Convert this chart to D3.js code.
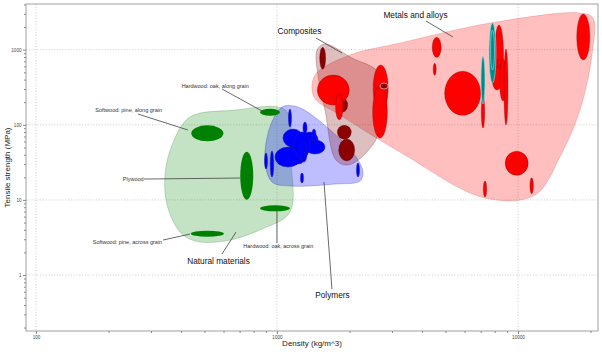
<!DOCTYPE html>
<html><head><meta charset="utf-8">
<script src="https://cdn.jsdelivr.net/npm/d3@7"></script>
<style>
body{margin:0;background:#fff;}
svg{display:block;font-family:"Liberation Sans",Arial,sans-serif;}
</style>
</head><body><svg id="c" width="602" height="352"></svg>
<script>
// ---------- data ----------
const xTicks = [100, 1000, 10000];
const yTicks = [1, 10, 100, 1000];
const xDomain = [90.9, 21480];     // density, kg/m^3
const yDomain = [0.18, 4060];      // tensile strength, MPa

// [name, density min, density max, strength min, strength max]
const natural = [
  ["Softwood: pine, along grain", 441, 599, 60.3, 98.5],
  ["Hardwood: oak, along grain", 850, 1029, 131.8, 163.3],
  ["Plywood", 704, 797, 10.06, 43.8],
  ["Hardwood: oak, across grain", 850, 1132, 7.05, 8.48],
  ["Softwood: pine, across grain", 439, 602, 3.24, 3.89]
];
const polymers = [
  ["P13", 1122, 1332, 30.1, 62.8],
  ["P14", 1270, 1480, 49.1, 80.2],
  ["P2", 981, 1258, 27.4, 50.6],
  ["P3", 1059, 1282, 50.6, 87.9],
  ["P5", 1307, 1582, 40.9, 62.8],
  ["P4", 1176, 1371, 36.1, 80.2],
  ["P6", 1258, 1332, 31.9, 59.0],
  ["P7", 1282, 1332, 75.4, 109],
  ["P8", 1397, 1451, 60.9, 87.9],
  ["P1", 1116, 1148, 93.5, 162.3],
  ["P9", 888, 913, 25.8, 42.1],
  ["P10", 938, 969, 20.2, 44.8],
  ["P11", 1252, 1288, 16.8, 22.8],
  ["P12", 2138, 2200, 20.2, 31.0]
];
const composites = [
  ["C1", 1504, 1592, 548, 1076],
  ["C2", 1786, 1965, 148, 227],
  ["C3", 1780, 2034, 64.1, 98.5],
  ["C4", 1803, 2101, 33.0, 64.7]
];
const metals = [
  ["M1", 1470, 1995, 183.5, 460.4],
  ["M2", 1750, 1879, 116.9, 259.5],
  ["M3", 2507, 2893, 152.7, 625.6],
  ["M4", 2495, 2869, 66.7, 328.6],
  ["M5", 4406, 4801, 792, 1463],
  ["M6", 4448, 4577, 456, 659],
  ["M7", 4963, 7002, 133.8, 515.6],
  ["M8", 7043, 7277, 90.7, 241.8],
  ["M9", 7989, 8708, 338.8, 2133],
  ["M17", 7802, 8583, 290.7, 606.7],
  ["M10", 8182, 8664, 625.6, 751.9],
  ["M11", 8381, 8959, 207.5, 751.7],
  ["M12", 8748, 9090, 99.4, 1022],
  ["M13", 17539, 19861, 729.4, 2988],
  ["M14", 8850, 11023, 21.3, 44.4],
  ["M15", 7178, 7418, 10.93, 17.85],
  ["M16", 11212, 11584, 12.09, 19.75]
];
const titanium = [
  ["T1", 7023, 7297, 189.2, 824.4],
  ["T2", 7582, 8103, 360.2, 2267],
  ["T3", 7691, 7989, 536.7, 1829]
];
const compositesTop = [
  ["C5", 2676, 2888, 299.7, 360.2]
];

// envelope outlines, [density, strength]
const naturalEnv = [[435,127],[669,157],[1010,173],[1111,144],[1143,34],[1132,6.9],[867,4.1],[608,2.84],[457,2.84],[396,3.74],[350,8.55],[343,21.5],[367,53.8]];
const polymerEnv = [[1049,172.6],[1176,178],[1319,152.7],[1791,68.8],[2128,37.3],[2274,23.5],[2210,17.85],[1741,16.28],[1154,15.3],[954,17.3],[892,34.0],[935,93.5]];
const compositeEnv = [[1466,991],[1582,1191],[2048,775],[2625,505],[2701,214],[2625,73.1],[2296,39.6],[1971,29.2],[1757,34.0],[1582,157],[1479,460]];
const metalEnv = [[1438,460],[2009,850],[3238,1228],[7652,2267],[18084,3081],[20478,2643],[20285,850],[18084,157],[14937,37.3],[11763,11.6],[7296,10.6],[3238,43.4],[1826,135],[1424,234.5]];

// annotations: [text, text density, text strength, line from (d,s), line to (d,s)]
const bigLabels = [
  ["Metals and alloys", 3756, 2897, 4152, 2411, 5374, 1476],
  ["Composites", 1240, 1774, 1451, 1431, 1861, 904],
  ["Natural materials", 572, 1.536, 591, 1.904, 676, 3.737],
  ["Polymers", 1699, 0.5416, 1691, 0.651, 1567, 17.31]
];
const smallLabels = [
  ["Softwood: pine, along grain", 242.4, 157.4, 265, 139.2, 427.3, 85.3],
  ["Hardwood: oak, along grain", 554.6, 328.6, 591.3, 299.8, 866.6, 152.7],
  ["Plywood", 253.3, 18.81, 280.6, 18.98, 702.3, 19.57],
  ["Softwood: pine, across grain", 239.7, 2.750, 336.5, 2.924, 435.5, 3.515],
  ["Hardwood: oak, across grain", 1012.5, 2.433, 1000, 2.668, 1000, 7.114]
];

// ---------- drawing ----------
const svg = d3.select("#c");
const L = 26, R = 598, T = 4, B = 331;
const x = d3.scaleLog().domain(xDomain).range([L, R]);
const y = d3.scaleLog().domain(yDomain).range([B, T]);

// grid
const grid = svg.append("g").attr("stroke", "#c8c8c8").attr("stroke-width", 0.8).attr("stroke-dasharray", "1.2,1.6");
grid.selectAll(".gx").data(xTicks).join("line").attr("x1", d => x(d)).attr("x2", d => x(d)).attr("y1", T).attr("y2", B);
grid.selectAll(".gy").data(yTicks).join("line").attr("y1", d => y(d)).attr("y2", d => y(d)).attr("x1", L).attr("x2", R);

// envelopes
const envLine = d3.line().x(d => x(d[0])).y(d => y(d[1])).curve(d3.curveCatmullRomClosed.alpha(0.5));
const envs = [
  [naturalEnv, "rgba(0,128,0,0.23)", "rgba(0,100,0,0.25)"],
  [polymerEnv, "rgba(0,0,255,0.26)", "rgba(0,0,160,0.3)"],
  [metalEnv, "rgba(255,0,0,0.25)", "rgba(200,0,0,0.2)"],
  [compositeEnv, "rgba(120,0,0,0.25)", "rgba(100,0,0,0.3)"]
];
svg.append("g").selectAll("path").data(envs).join("path")
  .attr("d", d => envLine(d[0])).attr("fill", d => d[1]).attr("stroke", d => d[2]).attr("stroke-width", 0.8);

// ellipses
function drawEllipses(data, fill, stroke, sw) {
  svg.append("g").selectAll("ellipse").data(data).join("ellipse")
    .attr("cx", d => (x(d[1]) + x(d[2])) / 2)
    .attr("cy", d => (y(d[3]) + y(d[4])) / 2)
    .attr("rx", d => Math.abs(x(d[2]) - x(d[1])) / 2)
    .attr("ry", d => Math.abs(y(d[4]) - y(d[3])) / 2)
    .attr("fill", fill).attr("stroke", stroke).attr("stroke-width", sw);
}
drawEllipses(natural, "#008000", "none", 0);
drawEllipses(polymers, "#0000ff", "#1a1aa0", 0.5);
drawEllipses(composites, "#8b0000", "rgba(60,0,0,0.6)", 0.5);
drawEllipses(metals, "#ff0000", "rgba(90,0,0,0.6)", 0.5);
drawEllipses(titanium, "#008b8b", "#a8e0e0", 0.6);
drawEllipses(compositesTop, "#8b0000", "#f0c0c0", 0.7);

// annotations
const ann = svg.append("g");
function drawLabels(data, size, color) {
  ann.append("g").selectAll("line").data(data).join("line")
    .attr("x1", d => x(d[3])).attr("y1", d => y(d[4]))
    .attr("x2", d => x(d[5])).attr("y2", d => y(d[6]))
    .attr("stroke", "#444").attr("stroke-width", 0.8);
  ann.append("g").selectAll("text").data(data).join("text")
    .attr("x", d => x(d[1])).attr("y", d => y(d[2])).attr("dy", "0.35em")
    .attr("text-anchor", "middle").attr("font-size", size).attr("fill", color)
    .text(d => d[0]);
}
drawLabels(bigLabels, "8.3px", "#111");
drawLabels(smallLabels, "5.5px", "#333");

// frame
svg.append("rect").attr("x", L).attr("y", T).attr("width", R - L).attr("height", B - T)
  .attr("fill", "none").attr("stroke", "#a0a0a0").attr("stroke-width", 1);

// axes
const minorX = x.ticks().filter(d => !xTicks.includes(d));
const minorY = y.ticks().filter(d => !yTicks.includes(d));
const xa = svg.append("g").attr("transform", `translate(0,${B})`)
  .call(d3.axisBottom(x).tickValues(xTicks).tickFormat(d3.format("d")).tickSize(3).tickPadding(1.5));
const xm = svg.append("g").attr("transform", `translate(0,${B})`)
  .call(d3.axisBottom(x).tickValues(minorX).tickFormat("").tickSize(2));
const ya = svg.append("g").attr("transform", `translate(${L},0)`)
  .call(d3.axisLeft(y).tickValues(yTicks).tickFormat(d3.format("d")).tickSize(3).tickPadding(1.5));
const ym = svg.append("g").attr("transform", `translate(${L},0)`)
  .call(d3.axisLeft(y).tickValues(minorY).tickFormat("").tickSize(2));
[xa, xm, ya, ym].forEach(g => {
  g.select(".domain").remove();
  g.selectAll("line").attr("stroke", "#888");
  g.selectAll("text").attr("font-size", "4.6px").attr("fill", "#444").attr("font-family", "Liberation Sans, Arial, sans-serif");
});

// axis titles
svg.append("text").attr("x", (L + R) / 2).attr("y", 346).attr("text-anchor", "middle")
  .attr("font-size", "8px").attr("fill", "#222").text("Density (kg/m^3)");
svg.append("text").attr("transform", `translate(10,${(T + B) / 2}) rotate(-90)`).attr("text-anchor", "middle")
  .attr("font-size", "8px").attr("fill", "#222").text("Tensile strength (MPa)");
</script>
</body></html>
